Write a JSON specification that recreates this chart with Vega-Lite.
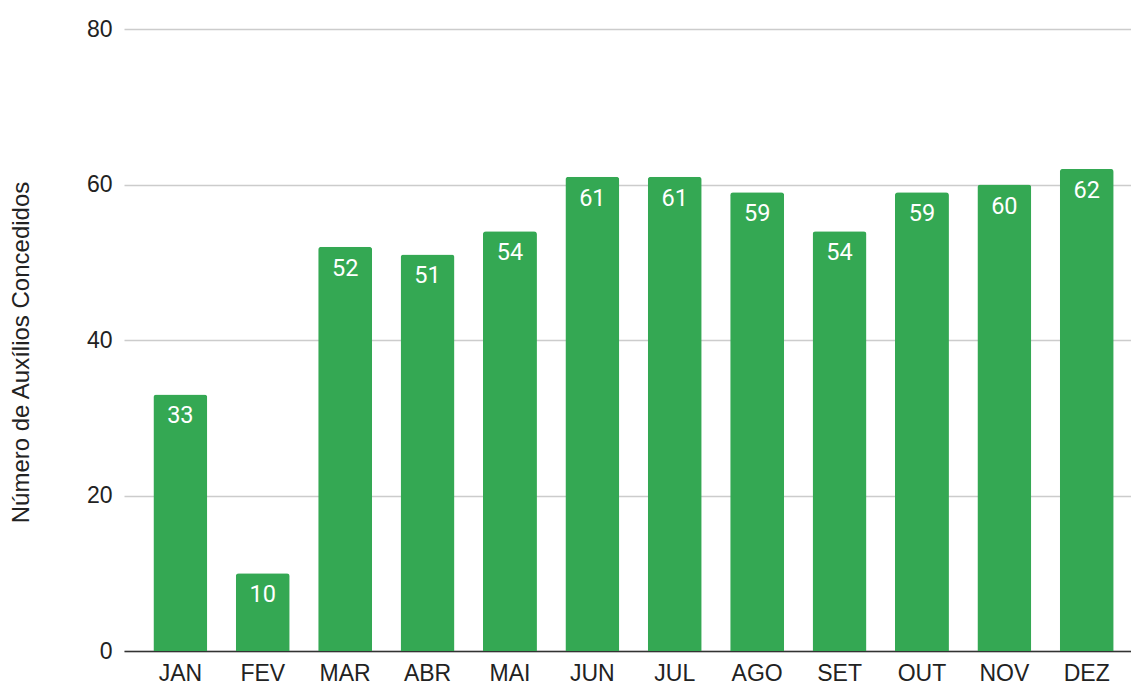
{
  "$schema": "https://vega.github.io/schema/vega-lite/v6.json",
  "width": 1007,
  "height": 622,
  "autosize": {"type": "none"},
  "padding": {"left": 124, "top": 29, "right": 0, "bottom": 33},
  "background": "white",
  "config": {"view": {"stroke": null}},
  "data": {"values": [
    {"mes": "JAN", "n": 33}, {"mes": "FEV", "n": 10}, {"mes": "MAR", "n": 52},
    {"mes": "ABR", "n": 51}, {"mes": "MAI", "n": 54}, {"mes": "JUN", "n": 61},
    {"mes": "JUL", "n": 61}, {"mes": "AGO", "n": 59}, {"mes": "SET", "n": 54},
    {"mes": "OUT", "n": 59}, {"mes": "NOV", "n": 60}, {"mes": "DEZ", "n": 62}
  ]},
  "encoding": {
    "x": {"field": "mes", "type": "nominal", "sort": null,
      "scale": {"paddingInner": 0.345, "paddingOuter": 0.283, "align": 0.63},
      "axis": {"title": null, "labelAngle": 0, "labelFont": "Liberation Sans", "labelFontSize": 23, "labelColor": "#222222", "labelPadding": 11, "ticks": false, "domainColor": "#333333", "domainWidth": 1.5, "grid": false}},
    "y": {"field": "n", "type": "quantitative",
      "scale": {"domain": [0, 80]},
      "axis": {"values": [0, 20, 40, 60, 80], "title": "Número de Auxílios Concedidos", "titleFont": "Liberation Sans", "titleFontSize": 24, "titleFontWeight": "normal", "titleColor": "#222222", "titleX": -91, "titleY": 323, "labelFont": "Liberation Sans", "labelFontSize": 23, "labelColor": "#222222", "labelPadding": 12, "ticks": false, "domain": false, "gridColor": "#cccccc", "gridWidth": 1.3}}
  },
  "layer": [
    {"mark": {"type": "bar", "color": "#34a853", "cornerRadiusTopLeft": 3, "cornerRadiusTopRight": 3}},
    {"mark": {"type": "text", "color": "white", "font": "Roboto", "fontSize": 23.5, "baseline": "top", "dy": 10}, "encoding": {"text": {"field": "n", "type": "quantitative"}}}
  ]
}
